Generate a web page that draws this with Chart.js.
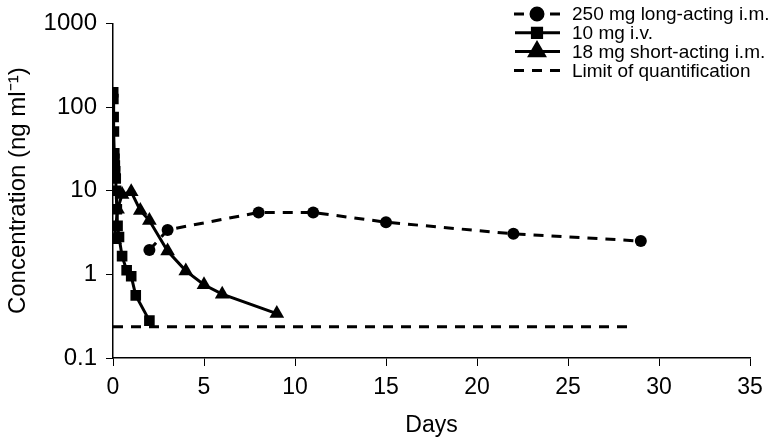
<!DOCTYPE html>
<html>
<head>
<meta charset="utf-8">
<script src="https://cdn.jsdelivr.net/npm/chart.js@4/dist/chart.umd.min.js"></script>
<style>
  body { margin: 0; background: #fff; }
  #wrap { width: 778px; height: 441px; }
</style>
</head>
<body>
<div id="wrap"><canvas id="chart"></canvas></div>
<script>
// data (days, ng/ml)
const longDays = [2, 3, 8, 11, 15, 22, 29];
const longConc = [1.95, 3.4, 5.5, 5.5, 4.2, 3.05, 2.5];

const ivDays = [0.01, 0.02, 0.035, 0.05, 0.07, 0.08, 0.1, 0.12, 0.15, 0.17, 0.21, 0.25, 0.33, 0.5, 0.75, 1, 1.25, 2];
const ivConc = [150, 125, 76, 51, 28, 24, 20, 17, 14, 10, 6, 3.8, 2.8, 1.65, 1.12, 0.95, 0.56, 0.28];

const shortDays = [0.08, 0.25, 0.5, 1, 1.5, 2, 3, 4, 5, 6, 9];
const shortConc = [2.6, 6, 9, 9.7, 5.8, 4.4, 1.9, 1.1, 0.75, 0.58, 0.34];

const loqDays = [0, 28.6];
const loqConc = [0.236, 0.236];

const yTicks = [0.1, 1, 10, 100, 1000];
const legendLabels = ['250 mg long-acting i.m.', '10 mg i.v.', '18 mg short-acting i.m.', 'Limit of quantification'];

const toPoints = (xs, ys) => xs.map((x, i) => ({ x: x, y: ys[i] }));

const whiteBg = {
    id: 'whiteBg',
    beforeDraw: (chart) => {
        const ctx = chart.ctx;
        ctx.save();
        ctx.fillStyle = '#fff';
        ctx.fillRect(0, 0, chart.width, chart.height);
        ctx.restore();
    }
};

// legend drawn by hand in the top right corner
const cornerLegend = {
    id: 'cornerLegend',
    afterDraw: (chart) => {
        const ctx = chart.ctx;
        ctx.save();
        ctx.font = '19px "Liberation Sans", Arial, sans-serif';
        ctx.textBaseline = 'middle';
        ctx.fillStyle = '#000';
        chart.data.datasets.forEach((ds, i) => {
            const y = 14 + i * 18.8;
            ctx.strokeStyle = '#000';
            ctx.lineWidth = 3;
            ctx.setLineDash(ds.borderDash || []);
            ctx.beginPath();
            if (ds.borderDash) {
                ctx.moveTo(514, y);
                ctx.lineTo(562, y);
            } else {
                ctx.moveTo(515, y);
                ctx.lineTo(560, y);
            }
            ctx.stroke();
            ctx.setLineDash([]);
            if (ds.pointRadius > 0) {
                if (ds.borderDash) {
                    ctx.fillStyle = '#fff';
                    ctx.fillRect(527, y - 8, 20, 16);
                }
                Chart.helpers.drawPoint(ctx, {
                    pointStyle: ds.pointStyle,
                    radius: ds.pointStyle === 'rect' ? 6.5 : ds.pointRadius,
                    borderWidth: 1
                }, 537, y);
                ctx.fillStyle = '#000';
                ctx.fill();
            }
            ctx.fillStyle = '#000';
            ctx.fillText(legendLabels[i], 572, y + 1);
        });
        ctx.restore();
    }
};

const font = '"Liberation Sans", Arial, sans-serif';

new Chart(document.getElementById('chart').getContext('2d'), {
    type: 'scatter',
    data: {
        datasets: [
            {
                label: legendLabels[0],
                data: toPoints(longDays, longConc),
                showLine: true,
                borderColor: '#000',
                backgroundColor: '#000',
                borderWidth: 3,
                borderDash: [10, 8],
                pointStyle: 'circle',
                pointRadius: 6,
                pointBorderWidth: 0,
            },
            {
                label: legendLabels[1],
                data: toPoints(ivDays, ivConc),
                showLine: true,
                borderColor: '#000',
                backgroundColor: '#000',
                borderWidth: 3,
                pointStyle: 'rect',
                pointRadius: 7.5,
                pointBorderWidth: 0,
            },
            {
                label: legendLabels[2],
                data: toPoints(shortDays, shortConc),
                showLine: true,
                borderColor: '#000',
                backgroundColor: '#000',
                borderWidth: 3,
                pointStyle: 'triangle',
                pointRadius: 8.5,
                pointBorderWidth: 0,
            },
            {
                label: legendLabels[3],
                data: toPoints(loqDays, loqConc),
                showLine: true,
                borderColor: '#000',
                borderWidth: 3,
                borderDash: [10, 8],
                pointRadius: 0,
            },
        ],
    },
    options: {
        responsive: true,
        maintainAspectRatio: false,
        animation: false,
        layout: { padding: { top: 10, right: 28, bottom: 0, left: 0 } },
        plugins: {
            legend: { display: false },
            tooltip: { enabled: false },
        },
        scales: {
            x: {
                type: 'linear',
                min: 0,
                max: 35,
                afterFit: (scale) => { scale.height = 83; },
                ticks: {
                    stepSize: 5,
                    color: '#000',
                    padding: 8,
                    maxRotation: 0,
                    font: { family: font, size: 23 },
                },
                grid: { drawOnChartArea: false, tickLength: 8, color: '#000' },
                border: { color: '#000', width: 1.5 },
                title: {
                    display: true,
                    text: 'Days',
                    color: '#000',
                    font: { family: font, size: 23 },
                    padding: { top: 0, bottom: 2 },
                },
            },
            y: {
                type: 'logarithmic',
                min: 0.1,
                max: 1000,
                afterFit: (scale) => { scale.width = 113; },
                afterBuildTicks: (scale) => { scale.ticks = yTicks.map(v => ({ value: v })); },
                ticks: {
                    color: '#000',
                    padding: 9,
                    font: { family: font, size: 24 },
                    callback: (v) => String(v),
                },
                grid: { drawOnChartArea: false, tickLength: 7, color: '#000' },
                border: { color: '#000', width: 1.5 },
                title: {
                    display: true,
                    text: 'Concentration (ng ml\u207B\u00B9)',
                    color: '#000',
                    font: { family: font, size: 24 },
                    padding: { top: 4, bottom: 0 },
                },
            },
        },
    },
    plugins: [whiteBg, cornerLegend],
});
</script>
</body>
</html>
